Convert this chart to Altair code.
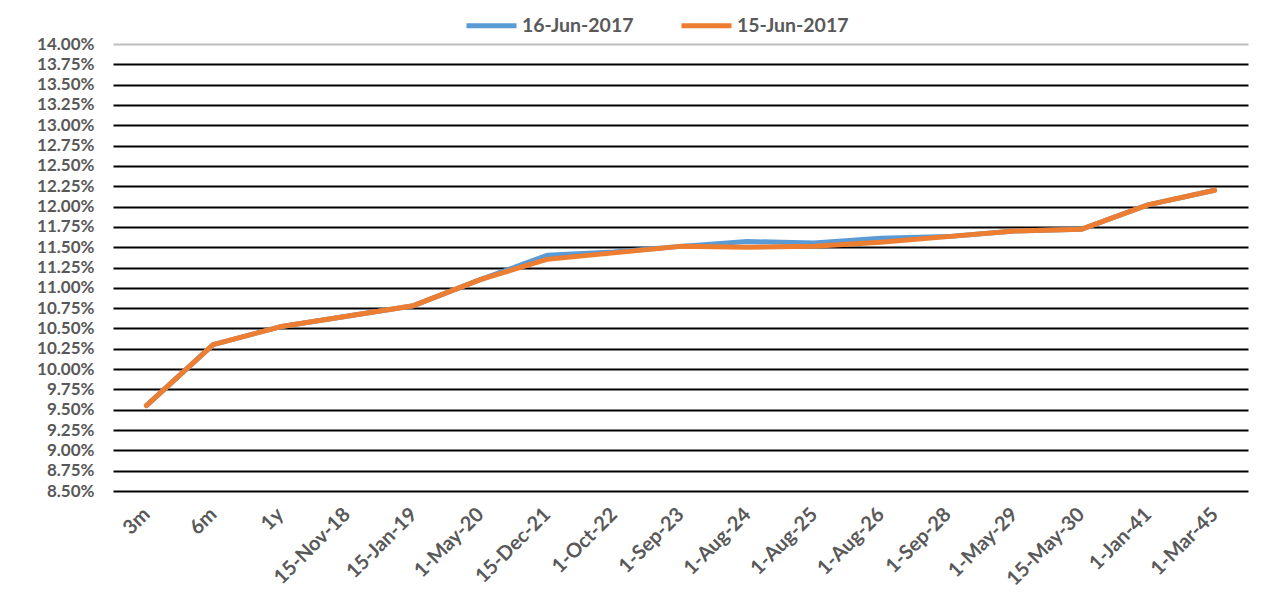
import altair as alt
import pandas as pd

tenors = ["3m", "6m", "1y", "15-Nov-18", "15-Jan-19", "1-May-20", "15-Dec-21",
          "1-Oct-22", "1-Sep-23", "1-Aug-24", "1-Aug-25", "1-Aug-26", "1-Sep-28",
          "1-May-29", "15-May-30", "1-Jan-41", "1-Mar-45"]
jun16 = [9.55, 10.30, 10.52, 10.65, 10.78, 11.10, 11.40, 11.44, 11.51, 11.57,
         11.55, 11.61, 11.63, 11.70, 11.72, 12.02, 12.20]
jun15 = [9.55, 10.30, 10.52, 10.65, 10.78, 11.10, 11.35, 11.43, 11.51, 11.50,
         11.51, 11.56, 11.63, 11.70, 11.72, 12.02, 12.20]
series_names = ["16-Jun-2017", "15-Jun-2017"]
y_ticks = [8.5 + 0.25 * i for i in range(23)]

rows = []
for name, vals in zip(series_names, [jun16, jun15]):
    for i, (t, v) in enumerate(zip(tenors, vals)):
        rows.append({"tenor": t, "rate": v, "series": name, "idx": i})
df = pd.DataFrame(rows)

FONT = "Lato"
GREY = "#595959"

x_enc = alt.X("tenor:N", sort=tenors, scale=alt.Scale(padding=0.5),
              axis=alt.Axis(title=None, labelAngle=-45, labelAlign="right", labelBaseline="middle",
                            labelFont=FONT, labelFontWeight="bold", labelFontSize=20,
                            labelColor=GREY, ticks=False, domain=False, grid=False,
                            labelOverlap=False, labelPadding=20))
y_enc = alt.Y("rate:Q", scale=alt.Scale(domain=[8.5, 14.0], nice=False, zero=False),
              axis=alt.Axis(title=None, values=y_ticks,
                            labelExpr="format(datum.value, '.2f') + '%'",
                            labelFont=FONT, labelFontWeight="bold", labelFontSize=17,
                            labelColor=GREY, ticks=False, domain=False,
                            labelOverlap=False,
                            grid=True,
                            gridColor={"condition": {"test": "datum.value >= 13.99", "value": "#BFBFBF"},
                                       "value": "#000000"},
                            gridWidth=2,
                            labelPadding=19))

chart = alt.Chart(df).mark_line(strokeWidth=5, strokeCap="round", strokeJoin="round").encode(
    x=x_enc,
    y=y_enc,
    color=alt.Color("series:N", sort=series_names,
                    scale=alt.Scale(domain=series_names, range=["#5B9BD5", "#ED7D31"]),
                    legend=alt.Legend(title=None, orient="none", legendX=351, legendY=-46,
                                      direction="horizontal", symbolType="stroke",
                                      symbolSize=2500, symbolStrokeWidth=5,
                                      labelFont=FONT, labelFontWeight="bold", labelFontSize=19.5,
                                      labelColor=GREY, columnPadding=37, labelOffset=3)),
    order="series:N",
    detail="series:N",
).properties(
    width=1135, height=447,
    padding={"left": 105, "top": 36, "right": 13, "bottom": 102},
    autosize=alt.AutoSizeParams(type="none"),
    background="white",
).configure_view(stroke=None)

chart.save("out.html", embed_options={"renderer": "svg", "actions": False})
